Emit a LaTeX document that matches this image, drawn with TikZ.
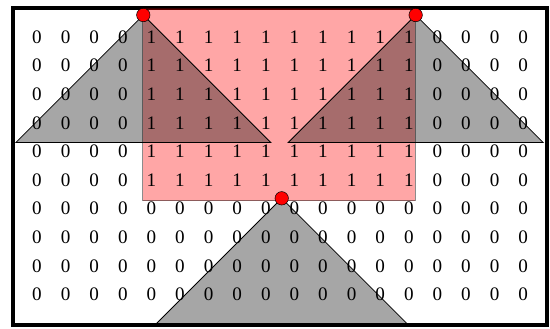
\documentclass[tikz,border=0pt]{standalone}
\usepackage{fontspec}
\setmainfont{Liberation Serif}
\usepackage{tikz}
\usetikzlibrary{positioning}
\definecolor{WindowRed}{RGB}{255, 0, 0}
\definecolor{KernelGray}{RGB}{0, 0, 0}

\begin{document}
\begin{tikzpicture}[
    cell/.style={inner sep=0pt, font=\fontsize{19}{19}\selectfont},
    window/.style={draw=black, draw opacity=0.45, fill=WindowRed, fill opacity=0.35, line width=0.8pt},
    kernel/.style={draw=black, fill=KernelGray, fill opacity=0.35, line width=0.8pt},
    apex/.style={circle, draw=black, fill=WindowRed, inner sep=0pt, minimum size=0.47cm, line width=0.5pt}
]
\useasboundingbox (-1.294,1.294) rectangle (17.937,-10.175);

% === FRAME ===
\draw[line width=4pt] (-0.84,1.0) rectangle (17.82,-10.07);

% === WINDOW ===
\draw[window] (3.7,1.0) rectangle (13.23,-5.72);

% === KERNELS ===
\coordinate (topL) at (3.717,0.769);
\coordinate (topR) at (13.24,0.769);
\coordinate (topB) at (8.556,-5.64);
\foreach \p in {topL,topR,topB}
  \draw[kernel] (\p) -- ++(-4.46,-4.46) -- ++(8.92,0) -- cycle;

% === VALUES ===
\foreach \j in {0,...,9}
  \foreach \i in {0,...,17} {
    \pgfmathtruncatemacro{\bit}{(\i>3)*(\i<14)*(\j<6)}
    \node[cell] (v-\j-\i) at (\i,-\j) {\bit};
  }

% === APEXES ===
\foreach \p in {topL,topR,topB}
  \node[apex] (dot-\p) at (\p) {};

\end{tikzpicture}
\end{document}
